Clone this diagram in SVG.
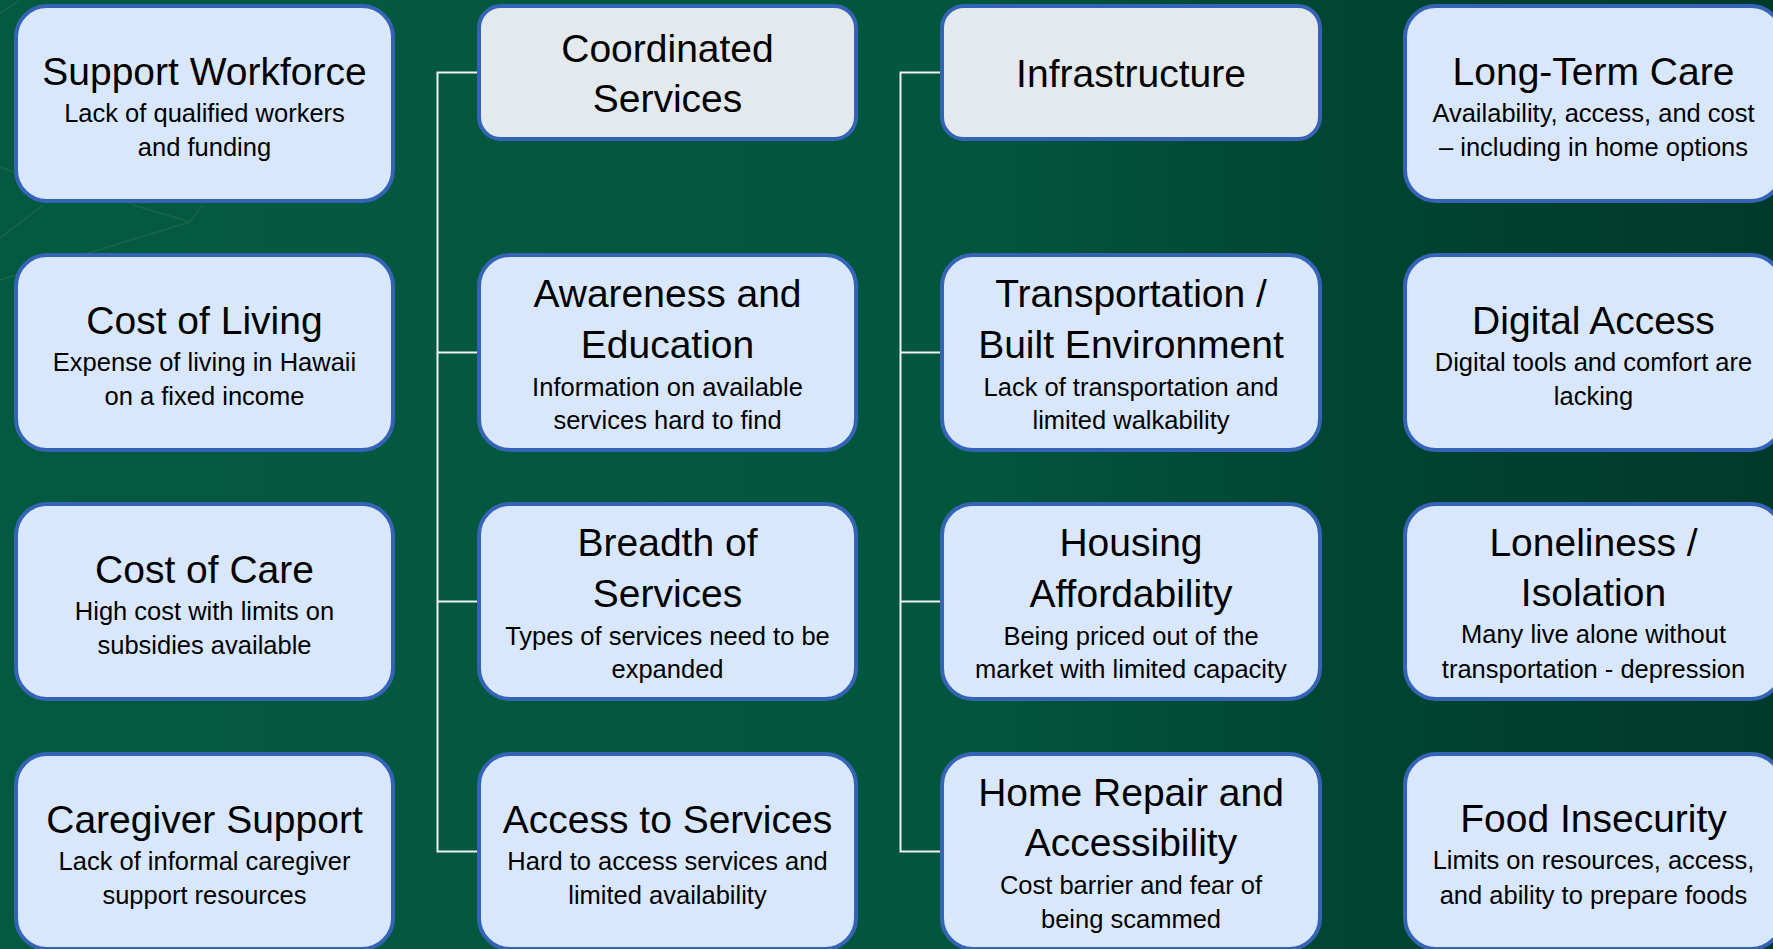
<svg xmlns="http://www.w3.org/2000/svg" width="1773" height="949" viewBox="0 0 1773 949">
<defs>
<linearGradient id="bg" x1="0" y1="0" x2="1" y2="0">
<stop offset="0" stop-color="#045a40"/>
<stop offset="0.55" stop-color="#03563e"/>
<stop offset="0.78" stop-color="#014331"/>
<stop offset="1" stop-color="#013a2a"/>
</linearGradient>
<style>
.box{fill:#d9e7fc;stroke:#3563b6;stroke-width:4}
.hdr{fill:#e3e9ec;stroke:#3563b6;stroke-width:4}
.t{font-family:"Liberation Sans",Arial,sans-serif;font-size:39px;fill:#000;text-anchor:middle}
.s{font-family:"Liberation Sans",Arial,sans-serif;font-size:25.5px;fill:#000;text-anchor:middle}
.deco{fill:none;stroke:#2a6e52;stroke-width:2;opacity:0.45}
.conn{fill:none;stroke:#eef2ef;stroke-width:2}
</style>
</defs>
<rect x="0" y="0" width="1773" height="949" fill="url(#bg)"/>
<g id="decor">
<polyline class="deco" points="0,280 190,222 203,205"/>
<line class="deco" x1="133" y1="205" x2="190" y2="222"/>
<line class="deco" x1="43" y1="205" x2="0" y2="238"/>
<line class="deco" x1="0" y1="167" x2="14" y2="172"/>
<line class="deco" x1="0" y1="13" x2="20" y2="0"/>
</g>
<g id="connectors">
<polyline class="conn" points="478,72.5 437.5,72.5 437.5,851.5 478,851.5"/>
<line class="conn" x1="437.5" y1="352.5" x2="478" y2="352.5"/>
<line class="conn" x1="437.5" y1="601.5" x2="478" y2="601.5"/>
<polyline class="conn" points="941,72.5 900.5,72.5 900.5,851.5 941,851.5"/>
<line class="conn" x1="900.5" y1="352.5" x2="941" y2="352.5"/>
<line class="conn" x1="900.5" y1="601.5" x2="941" y2="601.5"/>
</g>
<g id="support-workforce">
<rect class="box" x="16" y="6" width="377" height="195" rx="31"/>
<text class="t" x="204.5" y="85">Support Workforce</text>
<text class="s" x="204.5" y="122">Lack of qualified workers</text>
<text class="s" x="204.5" y="156">and funding</text>
</g>
<g id="cost-of-living">
<rect class="box" x="16" y="255" width="377" height="195" rx="31"/>
<text class="t" x="204.5" y="334">Cost of Living</text>
<text class="s" x="204.5" y="371">Expense of living in Hawaii</text>
<text class="s" x="204.5" y="405">on a fixed income</text>
</g>
<g id="cost-of-care">
<rect class="box" x="16" y="504" width="377" height="195" rx="31"/>
<text class="t" x="204.5" y="583">Cost of Care</text>
<text class="s" x="204.5" y="620">High cost with limits on</text>
<text class="s" x="204.5" y="654">subsidies available</text>
</g>
<g id="caregiver-support">
<rect class="box" x="16" y="754" width="377" height="195" rx="31"/>
<text class="t" x="204.5" y="833">Caregiver Support</text>
<text class="s" x="204.5" y="870">Lack of informal caregiver</text>
<text class="s" x="204.5" y="904">support resources</text>
</g>
<g id="coordinated-services">
<rect class="hdr" x="479" y="6" width="377" height="133" rx="22"/>
<text class="t" x="667.5" y="62">Coordinated</text>
<text class="t" x="667.5" y="112">Services</text>
</g>
<g id="awareness-education">
<rect class="box" x="479" y="255" width="377" height="195" rx="31"/>
<text class="t" x="667.5" y="307">Awareness and</text>
<text class="t" x="667.5" y="358">Education</text>
<text class="s" x="667.5" y="396">Information on available</text>
<text class="s" x="667.5" y="429">services hard to find</text>
</g>
<g id="breadth-of-services">
<rect class="box" x="479" y="504" width="377" height="195" rx="31"/>
<text class="t" x="667.5" y="556">Breadth of</text>
<text class="t" x="667.5" y="607">Services</text>
<text class="s" x="667.5" y="645">Types of services need to be</text>
<text class="s" x="667.5" y="678">expanded</text>
</g>
<g id="access-to-services">
<rect class="box" x="479" y="754" width="377" height="195" rx="31"/>
<text class="t" x="667.5" y="833">Access to Services</text>
<text class="s" x="667.5" y="870">Hard to access services and</text>
<text class="s" x="667.5" y="904">limited availability</text>
</g>
<g id="infrastructure">
<rect class="hdr" x="942" y="6" width="378" height="133" rx="22"/>
<text class="t" x="1131" y="87">Infrastructure</text>
</g>
<g id="transportation">
<rect class="box" x="942" y="255" width="378" height="195" rx="31"/>
<text class="t" x="1131" y="307">Transportation /</text>
<text class="t" x="1131" y="358">Built Environment</text>
<text class="s" x="1131" y="396">Lack of transportation and</text>
<text class="s" x="1131" y="429">limited walkability</text>
</g>
<g id="housing-affordability">
<rect class="box" x="942" y="504" width="378" height="195" rx="31"/>
<text class="t" x="1131" y="556">Housing</text>
<text class="t" x="1131" y="607">Affordability</text>
<text class="s" x="1131" y="645">Being priced out of the</text>
<text class="s" x="1131" y="678">market with limited capacity</text>
</g>
<g id="home-repair">
<rect class="box" x="942" y="754" width="378" height="195" rx="31"/>
<text class="t" x="1131" y="806">Home Repair and</text>
<text class="t" x="1131" y="856">Accessibility</text>
<text class="s" x="1131" y="894">Cost barrier and fear of</text>
<text class="s" x="1131" y="928">being scammed</text>
</g>
<g id="long-term-care">
<rect class="box" x="1405" y="6" width="377" height="195" rx="31"/>
<text class="t" x="1593.5" y="85">Long-Term Care</text>
<text class="s" x="1593.5" y="122">Availability, access, and cost</text>
<text class="s" x="1593.5" y="156">– including in home options</text>
</g>
<g id="digital-access">
<rect class="box" x="1405" y="255" width="377" height="195" rx="31"/>
<text class="t" x="1593.5" y="334">Digital Access</text>
<text class="s" x="1593.5" y="371">Digital tools and comfort are</text>
<text class="s" x="1593.5" y="405">lacking</text>
</g>
<g id="loneliness-isolation">
<rect class="box" x="1405" y="504" width="377" height="195" rx="31"/>
<text class="t" x="1593.5" y="556">Loneliness /</text>
<text class="t" x="1593.5" y="606">Isolation</text>
<text class="s" x="1593.5" y="643">Many live alone without</text>
<text class="s" x="1593.5" y="678">transportation - depression</text>
</g>
<g id="food-insecurity">
<rect class="box" x="1405" y="754" width="377" height="195" rx="31"/>
<text class="t" x="1593.5" y="832">Food Insecurity</text>
<text class="s" x="1593.5" y="869">Limits on resources, access,</text>
<text class="s" x="1593.5" y="904">and ability to prepare foods</text>
</g>
</svg>
